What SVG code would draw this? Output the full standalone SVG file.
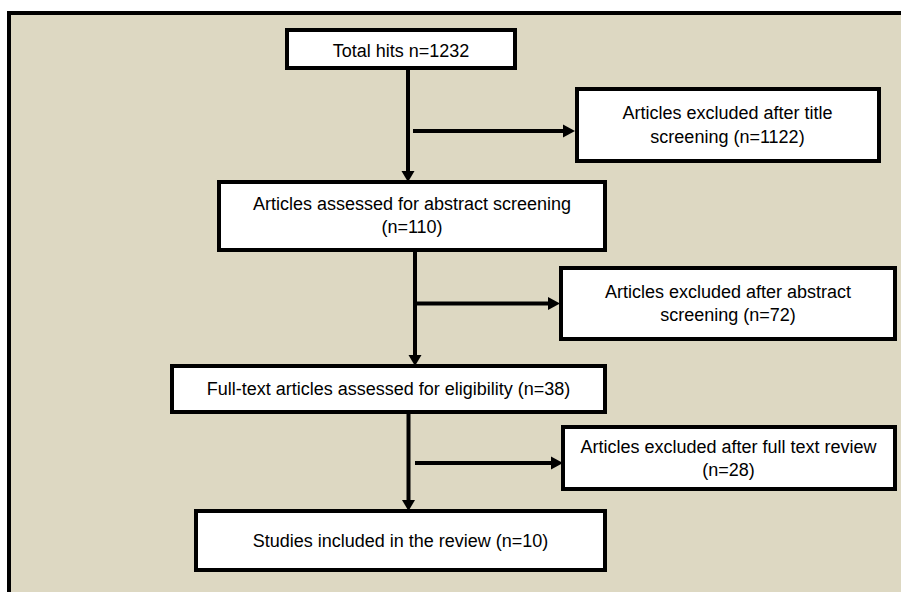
<svg xmlns="http://www.w3.org/2000/svg" width="901" height="592" viewBox="0 0 901 592">
<style>
.box{fill:#ffffff;stroke:#000000;stroke-width:4}
.t{font-family:"Liberation Sans",Arial,sans-serif;font-size:18px;fill:#000000;text-anchor:middle}
.c{stroke:#000000;stroke-width:4;fill:none}
.h{fill:#000000;stroke:none}
</style>
<rect x="0" y="0" width="901" height="592" fill="#ffffff"/>
<rect x="9" y="13" width="900" height="600" fill="#DDD8C2" stroke="#000000" stroke-width="4"/>
<g id="connectors">
<line class="c" x1="408" y1="70" x2="408" y2="172"/>
<polygon class="h" points="401.5,171 414.5,171 408,182"/>
<line class="c" x1="413" y1="131" x2="565" y2="131"/>
<polygon class="h" points="563,124.5 563,137.5 575,131"/>
<line class="c" x1="415" y1="250" x2="415" y2="356"/>
<polygon class="h" points="408.5,355 421.5,355 415,366"/>
<line class="c" x1="413" y1="303.5" x2="550" y2="303.5"/>
<polygon class="h" points="548,297 548,310 560,303.5"/>
<line class="c" x1="408.5" y1="412" x2="408.5" y2="501"/>
<polygon class="h" points="402,500 415,500 408.5,511"/>
<line class="c" x1="415" y1="463" x2="553" y2="463"/>
<polygon class="h" points="551,456.5 551,469.5 563,463"/>
</g>
<g id="n1">
<rect class="box" x="287" y="30" width="228" height="38"/>
<text class="t" x="401" y="57">Total hits n=1232</text>
</g>
<g id="n2">
<rect class="box" x="577" y="89" width="302" height="72"/>
<text class="t" x="727.5" y="119">Articles excluded after title</text>
<text class="t" x="727.5" y="143">screening (n=1122)</text>
</g>
<g id="n3">
<rect class="box" x="219" y="182" width="386" height="68"/>
<text class="t" x="412" y="210">Articles assessed for abstract screening</text>
<text class="t" x="412" y="233">(n=110)</text>
</g>
<g id="n4">
<rect class="box" x="561" y="268" width="334" height="71"/>
<text class="t" x="728" y="298">Articles excluded after abstract</text>
<text class="t" x="728" y="321">screening (n=72)</text>
</g>
<g id="n5">
<rect class="box" x="172" y="366" width="433" height="46"/>
<text class="t" x="388.5" y="395">Full-text articles assessed for eligibility (n=38)</text>
</g>
<g id="n6">
<rect class="box" x="563" y="427" width="332" height="62"/>
<text class="t" x="728.5" y="453">Articles excluded after full text review</text>
<text class="t" x="728.5" y="476">(n=28)</text>
</g>
<g id="n7">
<rect class="box" x="196" y="511" width="409" height="59"/>
<text class="t" x="400.5" y="547">Studies included in the review (n=10)</text>
</g>
</svg>
